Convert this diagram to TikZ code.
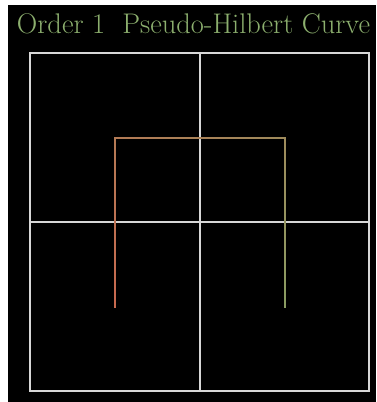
\documentclass[tikz,border=0pt]{standalone}
\usepackage{xcolor}
\begin{document}
\begin{tikzpicture}[x=1pt,y=-1pt,
  gridline/.style={draw={rgb,255:red,215;green,215;blue,215},line width=2pt},
  titletext/.style={text={rgb,255:red,140;green,175;blue,110},anchor=base,inner sep=0pt}]
\useasboundingbox (0,0) rectangle (376,402);
\fill[white] (0,0) rectangle (376,402);
\fill[black] (8,5) rectangle (376,402);
% grid
\coordinate (tl) at (30,53);
\coordinate (br) at (369,391);
\draw[gridline] (tl) rectangle (br);
\coordinate (mt) at (200,53);
\coordinate (mb) at (200,391);
\coordinate (ml) at (30,222);
\coordinate (mr) at (369,222);
\draw[gridline] (mt) -- (mb);
\draw[gridline] (ml) -- (mr);
% curve with gradient
\definecolor{cA}{RGB}{200,104,78}
\definecolor{cB}{RGB}{138,156,98}
\coordinate (p0) at (115,307);
\coordinate (p1) at (115,138);
\coordinate (p2) at (285,138);
\coordinate (p3) at (285,307);
\foreach \i in {0,...,59}{
  \pgfmathsetmacro{\t}{\i/60}
  \pgfmathsetmacro{\u}{(\i+1)/60}
  \pgfmathsetmacro{\pc}{100-100*(\i+0.5)/60}
  \pgfmathsetmacro{\ax}{\t<1/3 ? 115 : (\t<2/3 ? 115+170*(\t*3-1) : 285)}
  \pgfmathsetmacro{\ay}{\t<1/3 ? 307-169*(\t*3) : (\t<2/3 ? 138 : 138+169*(\t*3-2))}
  \pgfmathsetmacro{\bx}{\u<=1/3+0.0001 ? 115 : (\u<=2/3+0.0001 ? 115+170*(\u*3-1) : 285)}
  \pgfmathsetmacro{\by}{\u<=1/3+0.0001 ? 307-169*(\u*3) : (\u<=2/3+0.0001 ? 138 : 138+169*(\u*3-2))}
  \draw[cA!\pc!cB,line width=2pt,line cap=rect] (\ax,\ay) -- (\bx,\by);
}
\node[titletext,font=\fontsize{28.4}{34}\selectfont] (title) at (193.5,33) {Order 1\ \ Pseudo-Hilbert Curve};
\end{tikzpicture}
\end{document}
